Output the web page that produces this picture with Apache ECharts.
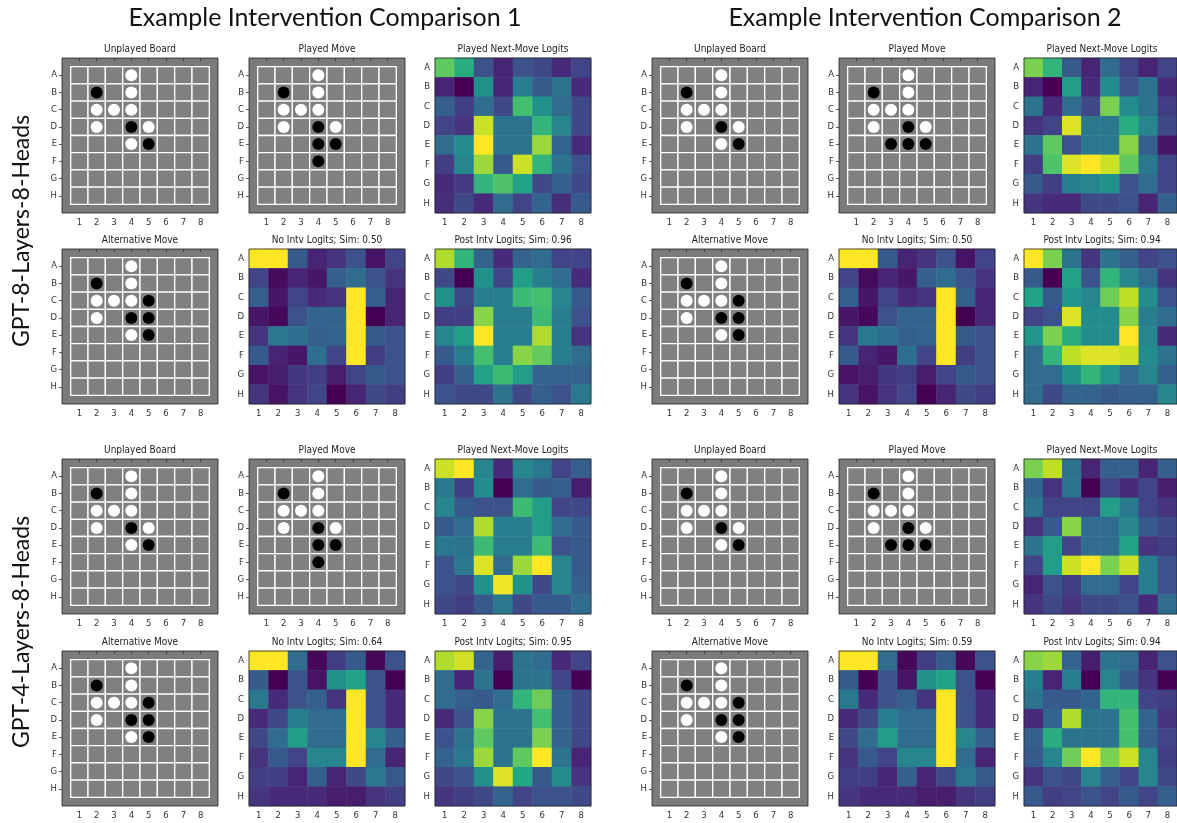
<!DOCTYPE html>
<html>
<head>
<meta charset="utf-8">
<script src="https://cdn.jsdelivr.net/npm/echarts@6/dist/echarts.min.js"></script>
<style>
  html, body { margin: 0; padding: 0; background: #fff; }
  #chart { width: 1177px; height: 823px; }
</style>
</head>
<body>
<div id="chart"></div>
<script>
// ---- labels ----
const rowLabels = ['A', 'B', 'C', 'D', 'E', 'F', 'G', 'H'];
const colLabels = ['1', '2', '3', '4', '5', '6', '7', '8'];
const comparisonTitles = ['Example Intervention Comparison 1', 'Example Intervention Comparison 2'];
const modelNames = ['GPT-8-Layers-8-Heads', 'GPT-4-Layers-8-Heads'];

// ---- board states (B = black, W = white, . = empty) ----
const unplayedBoard = [
  '...W....',
  '.B.W....',
  '.WWW....',
  '.W.BW...',
  '...WB...',
  '........',
  '........',
  '........'
];
const playedBoard1 = [
  '...W....',
  '.B.W....',
  '.WWW....',
  '.W.BW...',
  '...BB...',
  '...B....',
  '........',
  '........'
];
const playedBoard2 = [
  '...W....',
  '.B.W....',
  '.WWW....',
  '.W.BW...',
  '..BBB...',
  '........',
  '........',
  '........'
];
const alternativeBoard = [
  '...W....',
  '.B.W....',
  '.WWWB...',
  '.W.BB...',
  '...WB...',
  '........',
  '........',
  '........'
];

// ---- normalised next-move logits (rows A..H, columns 1..8) ----
const gpt8Comp1Played = [
  [0.75, 0.62, 0.25, 0.10, 0.25, 0.22, 0.12, 0.20],
  [0.10, 0.00, 0.50, 0.10, 0.42, 0.28, 0.38, 0.12],
  [0.30, 0.18, 0.35, 0.22, 0.70, 0.50, 0.35, 0.22],
  [0.20, 0.15, 0.92, 0.38, 0.38, 0.65, 0.45, 0.22],
  [0.35, 0.48, 1.00, 0.38, 0.38, 0.85, 0.32, 0.12],
  [0.18, 0.45, 0.85, 0.28, 0.92, 0.65, 0.38, 0.25],
  [0.12, 0.17, 0.65, 0.72, 0.58, 0.22, 0.30, 0.22],
  [0.13, 0.22, 0.12, 0.35, 0.20, 0.32, 0.13, 0.28]
];
const gpt8Comp1NoIntv = [
  [1.00, 1.00, 0.28, 0.10, 0.15, 0.25, 0.05, 0.20],
  [0.20, 0.03, 0.10, 0.06, 0.30, 0.35, 0.25, 0.15],
  [0.30, 0.06, 0.20, 0.12, 0.15, 1.00, 0.30, 0.10],
  [0.06, 0.02, 0.25, 0.32, 0.32, 1.00, 0.00, 0.10],
  [0.15, 0.40, 0.36, 0.30, 0.32, 1.00, 0.28, 0.25],
  [0.28, 0.10, 0.06, 0.36, 0.20, 1.00, 0.18, 0.25],
  [0.05, 0.08, 0.16, 0.18, 0.08, 0.20, 0.28, 0.25],
  [0.15, 0.05, 0.15, 0.20, 0.00, 0.10, 0.22, 0.18]
];
const gpt8Comp1PostIntv = [
  [0.88, 0.65, 0.32, 0.12, 0.32, 0.35, 0.20, 0.20],
  [0.22, 0.00, 0.50, 0.20, 0.55, 0.42, 0.35, 0.12],
  [0.50, 0.22, 0.42, 0.42, 0.68, 0.70, 0.45, 0.28],
  [0.18, 0.18, 0.82, 0.42, 0.42, 0.68, 0.42, 0.25],
  [0.45, 0.55, 1.00, 0.42, 0.42, 0.88, 0.42, 0.15],
  [0.28, 0.42, 0.70, 0.42, 0.82, 0.76, 0.42, 0.35],
  [0.18, 0.30, 0.58, 0.68, 0.55, 0.32, 0.32, 0.32],
  [0.25, 0.22, 0.22, 0.38, 0.22, 0.30, 0.25, 0.40]
];
const gpt8Comp2Played = [
  [0.80, 0.65, 0.28, 0.10, 0.35, 0.20, 0.10, 0.20],
  [0.10, 0.00, 0.55, 0.12, 0.48, 0.25, 0.38, 0.12],
  [0.38, 0.12, 0.35, 0.22, 0.80, 0.48, 0.38, 0.18],
  [0.15, 0.20, 0.95, 0.40, 0.40, 0.62, 0.45, 0.22],
  [0.38, 0.75, 0.25, 0.40, 0.40, 0.82, 0.30, 0.06],
  [0.18, 0.72, 0.95, 1.00, 0.92, 0.75, 0.40, 0.20],
  [0.28, 0.18, 0.42, 0.45, 0.50, 0.25, 0.35, 0.20],
  [0.15, 0.12, 0.12, 0.22, 0.22, 0.25, 0.10, 0.30]
];
const gpt8Comp2NoIntv = [
  [1.00, 1.00, 0.28, 0.10, 0.15, 0.25, 0.05, 0.20],
  [0.20, 0.03, 0.10, 0.06, 0.30, 0.35, 0.25, 0.15],
  [0.30, 0.06, 0.20, 0.12, 0.15, 1.00, 0.30, 0.10],
  [0.06, 0.02, 0.25, 0.32, 0.32, 1.00, 0.00, 0.10],
  [0.15, 0.40, 0.36, 0.30, 0.32, 1.00, 0.28, 0.25],
  [0.28, 0.10, 0.06, 0.36, 0.20, 1.00, 0.18, 0.25],
  [0.05, 0.08, 0.16, 0.18, 0.08, 0.20, 0.28, 0.25],
  [0.15, 0.05, 0.15, 0.20, 0.00, 0.10, 0.22, 0.18]
];
const gpt8Comp2PostIntv = [
  [1.00, 0.80, 0.38, 0.15, 0.38, 0.30, 0.20, 0.25],
  [0.28, 0.00, 0.58, 0.25, 0.65, 0.45, 0.35, 0.15],
  [0.58, 0.28, 0.52, 0.45, 0.78, 0.90, 0.48, 0.25],
  [0.20, 0.25, 0.95, 0.48, 0.48, 0.82, 0.42, 0.35],
  [0.52, 0.80, 0.62, 0.48, 0.48, 1.00, 0.45, 0.12],
  [0.35, 0.65, 0.90, 0.95, 0.95, 0.92, 0.48, 0.38],
  [0.35, 0.35, 0.50, 0.65, 0.52, 0.35, 0.45, 0.30],
  [0.35, 0.22, 0.32, 0.32, 0.28, 0.30, 0.30, 0.45]
];
const gpt4Comp1Played = [
  [0.92, 1.00, 0.45, 0.12, 0.45, 0.40, 0.20, 0.30],
  [0.40, 0.18, 0.48, 0.00, 0.35, 0.28, 0.30, 0.08],
  [0.45, 0.28, 0.25, 0.25, 0.68, 0.55, 0.20, 0.22],
  [0.28, 0.35, 0.88, 0.42, 0.42, 0.55, 0.35, 0.28],
  [0.40, 0.38, 0.68, 0.42, 0.42, 0.68, 0.25, 0.28],
  [0.25, 0.40, 0.95, 0.35, 0.85, 1.00, 0.45, 0.28],
  [0.25, 0.22, 0.50, 0.98, 0.50, 0.22, 0.45, 0.30],
  [0.22, 0.18, 0.28, 0.40, 0.22, 0.28, 0.28, 0.35]
];
const gpt4Comp1NoIntv = [
  [1.00, 1.00, 0.35, 0.02, 0.18, 0.28, 0.02, 0.25],
  [0.28, 0.00, 0.25, 0.05, 0.50, 0.58, 0.25, 0.00],
  [0.40, 0.12, 0.25, 0.30, 0.15, 1.00, 0.25, 0.12],
  [0.12, 0.22, 0.42, 0.35, 0.35, 1.00, 0.25, 0.12],
  [0.22, 0.35, 0.55, 0.35, 0.35, 1.00, 0.45, 0.30],
  [0.15, 0.28, 0.20, 0.45, 0.45, 1.00, 0.35, 0.10],
  [0.18, 0.18, 0.10, 0.30, 0.10, 0.22, 0.40, 0.28],
  [0.15, 0.12, 0.12, 0.12, 0.08, 0.08, 0.15, 0.18]
];
const gpt4Comp1PostIntv = [
  [0.88, 0.93, 0.32, 0.08, 0.38, 0.35, 0.12, 0.20],
  [0.35, 0.10, 0.38, 0.00, 0.38, 0.38, 0.20, 0.00],
  [0.35, 0.30, 0.28, 0.35, 0.65, 0.78, 0.30, 0.22],
  [0.12, 0.25, 0.82, 0.38, 0.38, 0.70, 0.30, 0.22],
  [0.25, 0.38, 0.75, 0.38, 0.38, 0.80, 0.32, 0.22],
  [0.32, 0.40, 0.85, 0.38, 0.75, 1.00, 0.38, 0.10],
  [0.22, 0.25, 0.50, 0.95, 0.60, 0.28, 0.48, 0.15],
  [0.15, 0.18, 0.22, 0.32, 0.20, 0.25, 0.25, 0.22]
];
const gpt4Comp2Played = [
  [0.80, 0.90, 0.38, 0.10, 0.30, 0.30, 0.10, 0.30],
  [0.32, 0.15, 0.38, 0.00, 0.20, 0.12, 0.20, 0.08],
  [0.38, 0.20, 0.20, 0.20, 0.55, 0.40, 0.20, 0.15],
  [0.15, 0.28, 0.82, 0.35, 0.35, 0.45, 0.28, 0.22],
  [0.38, 0.55, 0.20, 0.35, 0.35, 0.58, 0.15, 0.18],
  [0.20, 0.55, 0.92, 1.00, 0.80, 0.92, 0.42, 0.25],
  [0.10, 0.25, 0.18, 0.35, 0.35, 0.20, 0.42, 0.25],
  [0.15, 0.22, 0.15, 0.22, 0.22, 0.25, 0.12, 0.35]
];
const gpt4Comp2NoIntv = [
  [1.00, 1.00, 0.35, 0.02, 0.18, 0.28, 0.02, 0.25],
  [0.28, 0.00, 0.25, 0.05, 0.50, 0.58, 0.25, 0.00],
  [0.40, 0.12, 0.25, 0.30, 0.15, 1.00, 0.25, 0.12],
  [0.12, 0.22, 0.42, 0.35, 0.35, 1.00, 0.25, 0.12],
  [0.22, 0.35, 0.55, 0.35, 0.35, 1.00, 0.45, 0.30],
  [0.15, 0.28, 0.20, 0.45, 0.45, 1.00, 0.35, 0.10],
  [0.18, 0.18, 0.10, 0.30, 0.10, 0.22, 0.40, 0.28],
  [0.15, 0.12, 0.12, 0.12, 0.08, 0.08, 0.15, 0.18]
];
const gpt4Comp2PostIntv = [
  [0.82, 0.85, 0.32, 0.08, 0.38, 0.35, 0.10, 0.25],
  [0.42, 0.10, 0.42, 0.00, 0.45, 0.28, 0.15, 0.00],
  [0.38, 0.28, 0.28, 0.32, 0.65, 0.65, 0.20, 0.18],
  [0.12, 0.32, 0.88, 0.38, 0.38, 0.70, 0.32, 0.15],
  [0.30, 0.62, 0.38, 0.38, 0.38, 0.70, 0.30, 0.20],
  [0.28, 0.45, 0.78, 1.00, 0.80, 0.92, 0.45, 0.18],
  [0.15, 0.25, 0.22, 0.45, 0.30, 0.20, 0.45, 0.22],
  [0.28, 0.18, 0.20, 0.25, 0.20, 0.28, 0.20, 0.30]
];

// cosine similarities shown in the panel titles [model][comparison]
const noIntvSim = [['0.50', '0.50'], ['0.64', '0.59']];
const postIntvSim = [['0.96', '0.94'], ['0.95', '0.94']];

// ---- panel assembly ----
const playedBoards = [playedBoard1, playedBoard2];
const logits = [
  [ // GPT-8
    { played: gpt8Comp1Played, noIntv: gpt8Comp1NoIntv, post: gpt8Comp1PostIntv },
    { played: gpt8Comp2Played, noIntv: gpt8Comp2NoIntv, post: gpt8Comp2PostIntv }
  ],
  [ // GPT-4
    { played: gpt4Comp1Played, noIntv: gpt4Comp1NoIntv, post: gpt4Comp1PostIntv },
    { played: gpt4Comp2Played, noIntv: gpt4Comp2NoIntv, post: gpt4Comp2PostIntv }
  ]
];

const viridis = ['#440154', '#482475', '#414487', '#355f8d', '#2a788e', '#21918c',
                 '#22a884', '#44bf70', '#7ad151', '#bddf26', '#fde725'];

const colLeft = [[62, 249, 435], [652, 839, 1024]];
const rowTop = [58, 249, 459, 651];
const PW = 156, PH = 155;
const tickFont = { fontSize: 8.5, color: '#333', fontFamily: 'DejaVu Sans' };
const idx8 = [1, 2, 3, 4, 5, 6, 7, 8];

const grids = [], xAxes = [], yAxes = [], series = [], graphics = [];
const heatSeriesIdx = [];

function addBoard(gi, board) {
  // board frame sits underneath the cells and pieces
  Object.assign(grids[gi], { backgroundColor: '#7b7b7b', z: 0 });
  xAxes.push({
    gridIndex: gi, type: 'value', min: 0, max: 9,
    axisLine: { show: false }, splitLine: { show: false },
    axisTick: { customValues: idx8, length: 3, lineStyle: { color: '#333', width: 0.8 } },
    axisLabel: Object.assign({ customValues: idx8, margin: 5,
      formatter: v => colLabels[v - 1] || '' }, tickFont)
  });
  yAxes.push({
    gridIndex: gi, type: 'value', min: 0, max: 9, inverse: true,
    axisLine: { show: false }, splitLine: { show: false },
    axisTick: { customValues: idx8, length: 3, lineStyle: { color: '#333', width: 0.8 } },
    axisLabel: Object.assign({ customValues: idx8, margin: 5,
      formatter: v => rowLabels[v - 1] || '' }, tickFont)
  });
  const cells = [];
  const black = [], white = [];
  board.forEach((line, r) => {
    for (let c = 0; c < 8; c++) {
      cells.push([c + 1, r + 1]);
      if (line[c] === 'B') black.push([c + 1, r + 1]);
      if (line[c] === 'W') white.push([c + 1, r + 1]);
    }
  });
  series.push({
    type: 'custom', xAxisIndex: gi, yAxisIndex: gi, silent: true, data: cells, z: 2,
    renderItem: (params, api) => {
      const p = api.coord([api.value(0) - 0.5, api.value(1) - 0.5]);
      const s = api.size([1, 1]);
      return { type: 'rect', shape: { x: p[0], y: p[1], width: s[0], height: s[1] },
               style: { fill: '#808080', stroke: '#ffffff', lineWidth: 1.3 } };
    }
  });
  series.push({ type: 'scatter', xAxisIndex: gi, yAxisIndex: gi, silent: true, data: black,
    symbolSize: 12, itemStyle: { color: '#000000', opacity: 1 }, z: 3 });
  series.push({ type: 'scatter', xAxisIndex: gi, yAxisIndex: gi, silent: true, data: white,
    symbolSize: 12, itemStyle: { color: '#ffffff', opacity: 1 }, z: 3 });
}

function addHeatmap(gi, matrix) {
  // transparent frame drawn above the cells
  Object.assign(grids[gi], { backgroundColor: 'transparent', z: 4 });
  xAxes.push({
    gridIndex: gi, type: 'category', data: colLabels,
    axisLine: { show: false }, splitLine: { show: false }, splitArea: { show: false },
    axisTick: { alignWithLabel: true, length: 3, lineStyle: { color: '#333', width: 0.8 } },
    axisLabel: Object.assign({ margin: 5 }, tickFont)
  });
  yAxes.push({
    gridIndex: gi, type: 'category', data: rowLabels, inverse: true,
    axisLine: { show: false }, splitLine: { show: false }, splitArea: { show: false },
    axisTick: { alignWithLabel: true, length: 3, lineStyle: { color: '#333', width: 0.8 } },
    axisLabel: Object.assign({ margin: 5 }, tickFont)
  });
  const data = [];
  matrix.forEach((row, r) => row.forEach((v, c) => data.push([c, r, v])));
  heatSeriesIdx.push(series.length);
  series.push({ type: 'heatmap', xAxisIndex: gi, yAxisIndex: gi, data, silent: true,
    progressive: 0, emphasis: { disabled: true } });
}

for (let m = 0; m < 2; m++) {
  for (let cmp = 0; cmp < 2; cmp++) {
    for (let s = 0; s < 2; s++) {
      const top = rowTop[m * 2 + s];
      for (let k = 0; k < 3; k++) {
        const left = colLeft[cmp][k];
        const gi = grids.length;
        grids.push({ left, top, width: PW, height: PH, show: true,
          borderColor: '#222', borderWidth: 0.8 });
        let title;
        const L = logits[m][cmp];
        if (s === 0 && k === 0) { addBoard(gi, unplayedBoard); title = 'Unplayed Board'; }
        else if (s === 0 && k === 1) { addBoard(gi, playedBoards[cmp]); title = 'Played Move'; }
        else if (s === 0 && k === 2) { addHeatmap(gi, L.played); title = 'Played Next-Move Logits'; }
        else if (s === 1 && k === 0) { addBoard(gi, alternativeBoard); title = 'Alternative Move'; }
        else if (s === 1 && k === 1) { addHeatmap(gi, L.noIntv); title = 'No Intv Logits; Sim: ' + noIntvSim[m][cmp]; }
        else { addHeatmap(gi, L.post); title = 'Post Intv Logits; Sim: ' + postIntvSim[m][cmp]; }
        graphics.push({ type: 'text', x: left + PW / 2, y: top - 9,
          style: { text: title, align: 'center', verticalAlign: 'middle',
                   font: '10px "DejaVu Sans Condensed", "DejaVu Sans", sans-serif', fill: '#222' } });
      }
    }
  }
}

// comparison headings
[325, 925].forEach((cx, i) => graphics.push({ type: 'text', x: cx, y: 18,
  style: { text: comparisonTitles[i], align: 'center', verticalAlign: 'middle',
           font: '25px Lato, "Open Sans", sans-serif', fill: '#111' } }));

// model names along the left edge
[231, 632].forEach((cy, i) => graphics.push({ type: 'text', x: 22, y: cy, rotation: Math.PI / 2,
  style: { text: modelNames[i], align: 'center', verticalAlign: 'middle',
           font: '23px Lato, "Open Sans", sans-serif', fill: '#111' } }));

const chart = echarts.init(document.getElementById('chart'), null, { renderer: 'canvas' });
chart.setOption({
  animation: false,
  backgroundColor: '#ffffff',
  grid: grids,
  xAxis: xAxes,
  yAxis: yAxes,
  visualMap: [{ show: false, type: 'continuous', seriesIndex: heatSeriesIdx, dimension: 2,
                min: 0, max: 1, inRange: { color: viridis } }],
  series,
  graphic: graphics
});
</script>
</body>
</html>
